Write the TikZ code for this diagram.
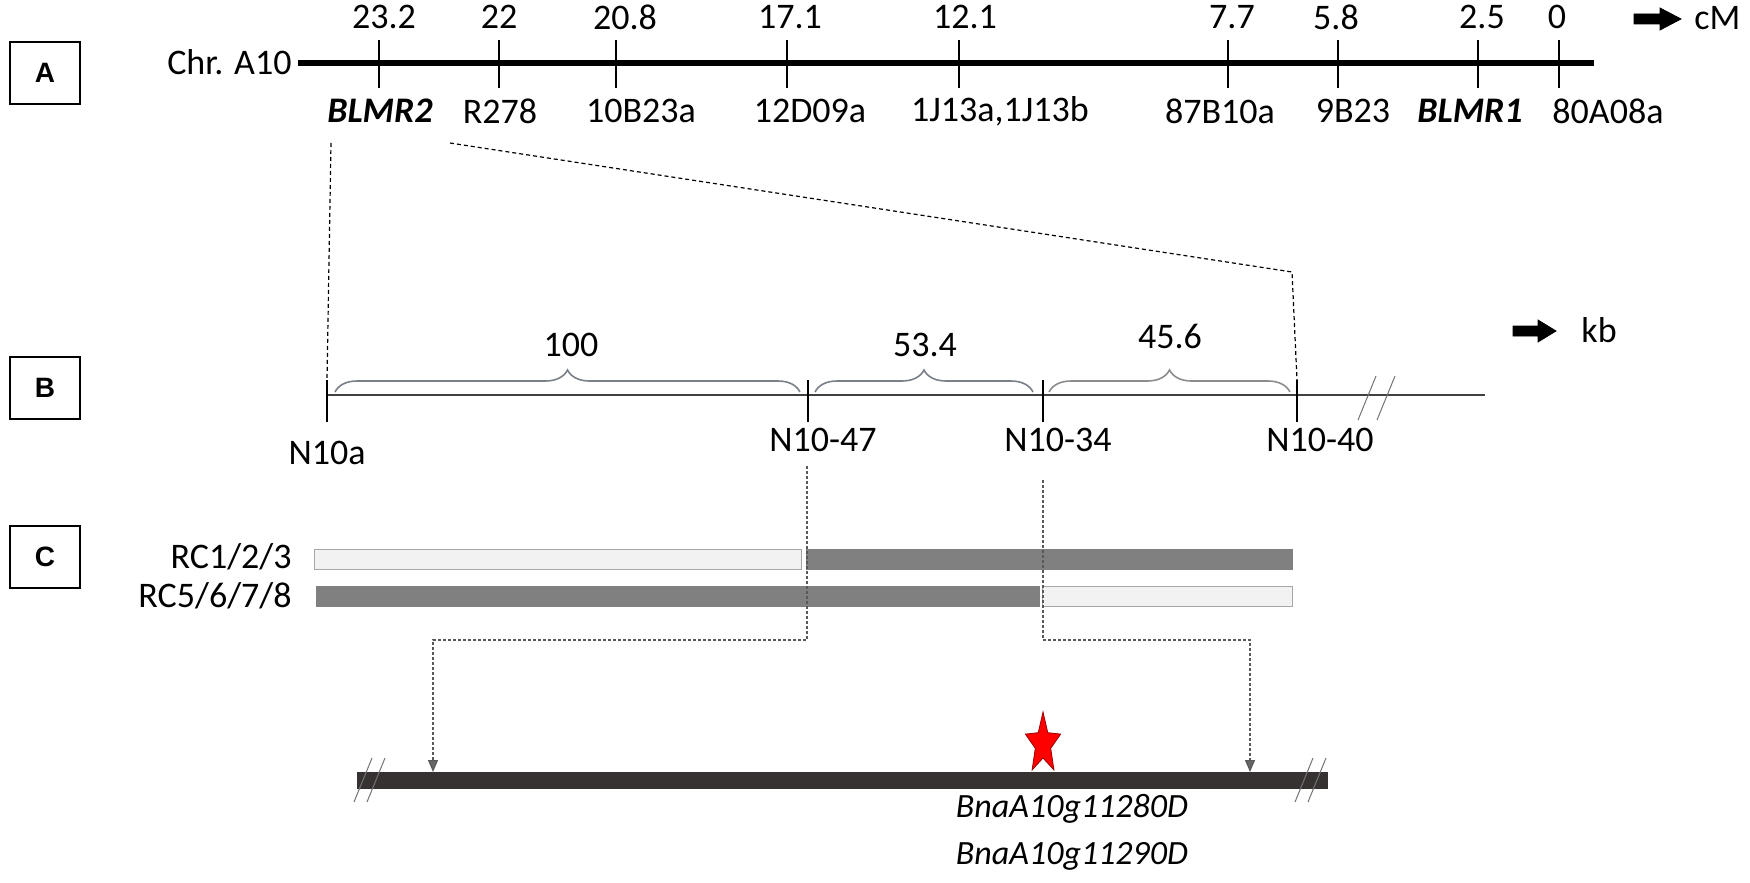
\documentclass[tikz,border=0pt]{standalone}
\usepackage{fontspec}
\setmainfont{Carlito}
\newfontfamily\arialf{Liberation Sans}
\usetikzlibrary{arrows.meta,decorations.pathreplacing}
\definecolor{barDark}{HTML}{808080}
\definecolor{barLight}{HTML}{F2F2F2}
\definecolor{barEdge}{HTML}{A6A6A6}
\definecolor{geneBar}{HTML}{363232}
\definecolor{braceC}{HTML}{7A8088}
\definecolor{lineB}{HTML}{404040}
\begin{document}
\begin{tikzpicture}[x=0.5pt,y=-0.5pt,
  every node/.style={inner sep=0pt,font=\fontsize{18}{21}\selectfont},
  panelbox/.style={draw,line width=0.6pt,minimum width=35pt,minimum height=31pt,font=\arialf\bfseries\fontsize{14}{16}\selectfont},
  chrom/.style={line width=3pt},
  tickln/.style={line width=0.7pt},
  zoomdash/.style={dashed,dash pattern=on 2pt off 1.5pt,line width=0.6pt},
  cdash/.style={dash pattern=on 1.5pt off 1pt,line width=0.6pt,draw=black!65},
  bigarrow/.style={fill=black},
  bracebr/.style={decorate,decoration={brace,amplitude=11pt},draw=braceC,line width=0.8pt},
  breakmark/.style={draw=black!55,line width=0.5pt},
  lightbar/.style={fill=barLight,draw=barEdge,line width=0.5pt},
  darkbar/.style={fill=barDark,draw=barDark,line width=0.5pt},
  gene/.style={font=\itshape\fontsize{17}{20}\selectfont}
]
\useasboundingbox (0,0) rectangle (1750,883);

% ---------- panel A ----------
\node[panelbox] (boxA) at (45,73) {A};
\node[anchor=east] (chr) at (292,62) {Chr. A10};
\coordinate (cs) at (298,63);
\coordinate (ce) at (1594,63);
\draw[chrom] (cs) -- (ce);
\foreach \tx/\nx/\lx/\num/\lab [count=\i] in {
  379/384/380/23.2/{\textbf{\textit{BLMR2}}},
  499/499/500/22/R278,
  616/625/641/20.8/10B23a,
  787/790/810/17.1/12D09a,
  959/965/1000/12.1/{1J13a,1J13b},
  1228/1232/1220/7.7/87B10a,
  1338/1336/1353/5.8/9B23,
  1478/1482/1470/2.5/{\textbf{\textit{BLMR1}}},
  1559/1557/1608/0/80A08a}{
  \coordinate (ta\i) at (\tx,40);
  \coordinate (tb\i) at (\tx,88);
  \draw[tickln] (ta\i) -- (tb\i);
  \node (num\i) at (\nx,17) {\num};
  \node (mk\i) at (\lx,111) {\lab};
}
\draw[bigarrow] (1634,14) -- (1660,14) -- (1660,8) -- (1681,19) -- (1660,30) -- (1660,24) -- (1634,24) -- cycle;
\node[anchor=west] (cM) at (1694,18) {cM};

% ---------- zoom lines ----------
\coordinate (z1) at (331,143);
\coordinate (z2) at (450,143);
\coordinate (z3) at (1292,272);

% ---------- panel B ----------
\node[panelbox] (boxB) at (45,388) {B};
\coordinate (bs) at (326,395);
\coordinate (be) at (1485,395);
\draw[lineB,line width=1pt] (bs) -- (be);
\foreach \tx [count=\i] in {327,808,1043,1297}{
  \coordinate (bt\i) at (\tx,380);
  \coordinate (bb\i) at (\tx,422);
  \draw[tickln] (bt\i) -- (bb\i);
}
\node (nA) at (327,453) {N10a};
\node (n47) at (823,440) {N10-47};
\node (n34) at (1058,440) {N10-34};
\node (n40) at (1320,440) {N10-40};

\draw[zoomdash] (z1) -- (bt1);
\draw[zoomdash] (z2) -- (z3) -- (bt4);

\coordinate (br1a) at (335,392); \coordinate (br1b) at (800,392);
\coordinate (br2a) at (815,392); \coordinate (br2b) at (1033,392);
\coordinate (br3a) at (1049,392); \coordinate (br3b) at (1290,392);
\draw[bracebr] (br1a) -- (br1b);
\draw[bracebr] (br2a) -- (br2b);
\draw[bracebr,draw=black!45] (br3a) -- (br3b);
\node (k100) at (571,345) {100};
\node (k534) at (925,345) {53.4};
\node (k456) at (1170,336) {45.6};

\draw[breakmark] (1358,420) -- (1376,376);
\draw[breakmark] (1377,420) -- (1395,376);

\draw[bigarrow] (1513,326) -- (1538,326) -- (1538,320) -- (1556,331) -- (1538,342) -- (1538,336) -- (1513,336) -- cycle;
\node[anchor=west] (kb) at (1581,330) {kb};

% ---------- panel C ----------
\node[panelbox] (boxC) at (45,557) {C};
\node[anchor=east] (rc1) at (292,557) {RC1/2/3};
\node[anchor=east] (rc2) at (292,596) {RC5/6/7/8};
\draw[lightbar] (314,549) rectangle (801,569);
\draw[darkbar] (806,549) rectangle (1292,569);
\draw[darkbar] (316,586) rectangle (1039,606);
\draw[lightbar] (1042,586) rectangle (1292,606);

% ---------- gene region ----------
\coordinate (g1) at (357,772);
\coordinate (g2) at (1328,789);
\fill[geneBar] (g1) rectangle (g2);
\draw[breakmark] (354,802) -- (372,758);
\draw[breakmark] (367,802) -- (385,758);
\draw[breakmark] (1295,802) -- (1313,758);
\draw[breakmark] (1308,802) -- (1326,758);

\coordinate (c1) at (807,466);
\coordinate (c2) at (807,640);
\coordinate (c3) at (433,640);
\coordinate (c4) at (433,772);
\coordinate (d1) at (1043,480);
\coordinate (d2) at (1043,640);
\coordinate (d3) at (1250,640);
\coordinate (d4) at (1250,772);
\draw[cdash,-{Triangle[width=5pt,length=6pt,fill=black!60]}] (c1) -- (c2) -- (c3) -- (c4);
\draw[cdash,-{Triangle[width=5pt,length=6pt,fill=black!60]}] (d1) -- (d2) -- (d3) -- (d4);

% star
\begin{scope}[shift={(1043,744)},xscale=0.58]
\draw[fill=red,draw=red!60!black,line width=0.4pt]
  (0,-32) -- (8.2,-11.3) -- (30.4,-9.9) -- (13.3,4.3) -- (18.8,25.9) -- (0,14)
  -- (-18.8,25.9) -- (-13.3,4.3) -- (-30.4,-9.9) -- (-8.2,-11.3) -- cycle;
\end{scope}

\node[gene] (gA) at (1072,809) {BnaA10g11280D};
\node[gene] (gB) at (1072,856) {BnaA10g11290D};
\end{tikzpicture}
\end{document}
